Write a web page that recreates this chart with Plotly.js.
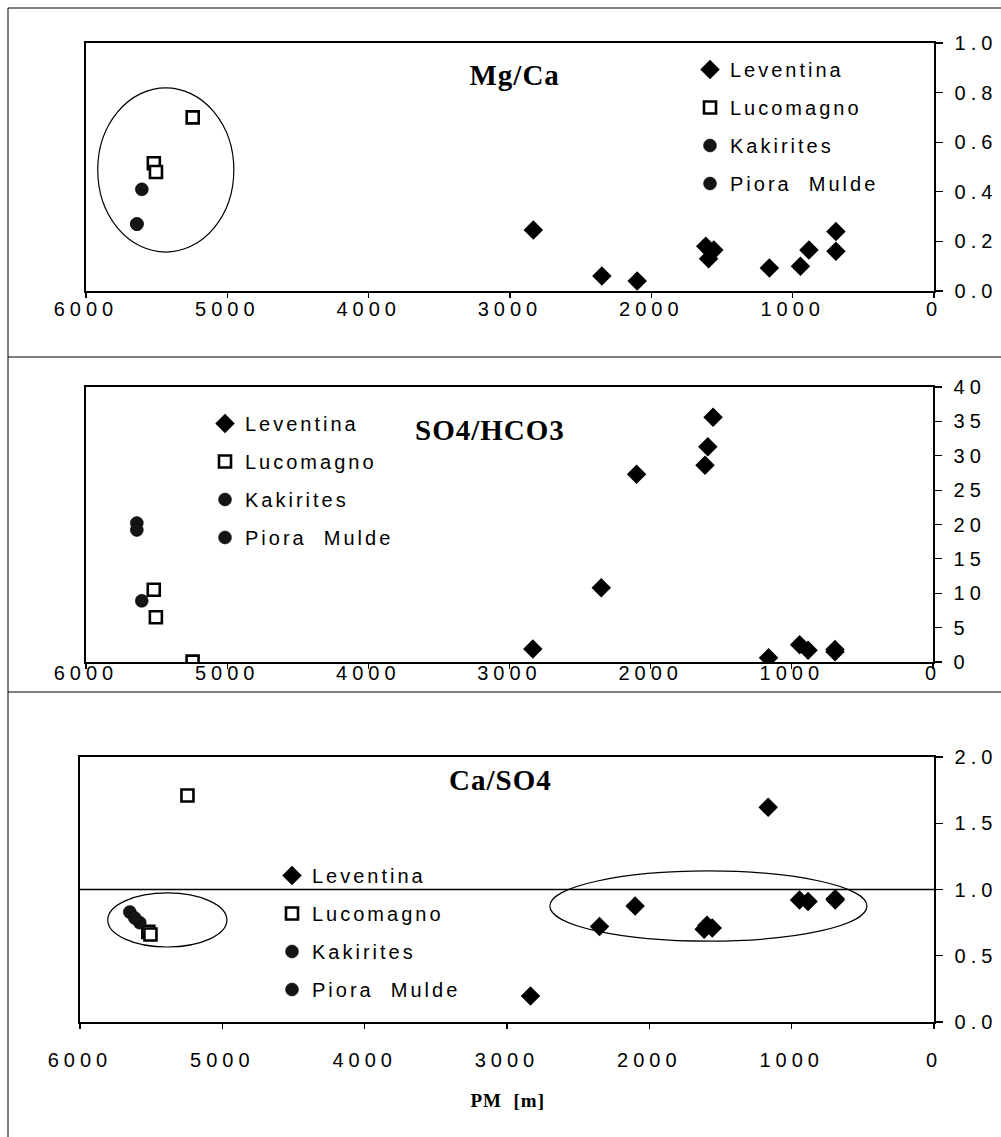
<!DOCTYPE html>
<html><head><meta charset="utf-8">
<script src="https://cdn.plot.ly/plotly-3.0.1.min.js"></script>
<style>
html,body{margin:0;padding:0;background:#fff;}
#chart{width:1001px;height:1137px;}
g[class$="tick"] text{letter-spacing:5px;}
.infolayer text{letter-spacing:3px;}
.infolayer .annotation text{letter-spacing:1px;}
</style></head><body><div id="chart"></div>
<script>
// ---------- data ----------
const seriesNames = ['Leventina', 'Lucomagno', 'Kakirites', 'Piora  Mulde'];
const xTickValues = [6000, 5000, 4000, 3000, 2000, 1000, 0];

const pmLeventina = [2835, 2350, 2100, 1615, 1595, 1558, 1165, 945, 885, 694, 694];
const mgcaLeventina = [0.246, 0.06, 0.04, 0.18, 0.13, 0.165, 0.093, 0.10, 0.165, 0.24, 0.16];
const so4hco3Leventina = [1.9, 10.8, 27.3, 28.6, 31.3, 35.6, 0.6, 2.5, 1.7, 1.8, 1.5];
const caso4Leventina = [0.196, 0.72, 0.875, 0.70, 0.73, 0.71, 1.62, 0.92, 0.91, 0.92, 0.93];

const pmLucomagno = [5245, 5520, 5505];
const mgcaLucomagno = [0.70, 0.515, 0.48];
const so4hco3Lucomagno = [0.05, 10.5, 6.5];
const caso4Lucomagno = [1.71, 0.68, 0.66];

const pmKakirites = [5605];
const mgcaKakirites = [0.41];
const so4hco3Kakirites = [8.9];
const pmKakiritesCaSO4 = [5580];
const caso4Kakirites = [0.75];

const pmPiora = [5640, 5640];
const mgcaPiora = [0.27, 0.27];
const so4hco3Piora = [20.2, 19.2];
const pmPioraCaSO4 = [5650, 5615];
const caso4Piora = [0.83, 0.785];

// ---------- styling ----------
const sans = 'Liberation Sans, Arial, Helvetica, sans-serif';
const serif = 'Liberation Serif, Times New Roman, serif';
const markerStyles = [
  {symbol: 'diamond', size: 15, color: '#000', line: {width: 0}},
  {symbol: 'square', size: 12, color: '#fff', line: {width: 2.6, color: '#000'}},
  {symbol: 'circle', size: 13, color: '#151515', line: {width: 0.5, color: '#000'}},
  {symbol: 'circle', size: 13, color: '#151515', line: {width: 0.5, color: '#000'}}
];

const panels = [
  {xa: 'x', ya: 'y', legend: 'legend', sets: [[pmLeventina, mgcaLeventina], [pmLucomagno, mgcaLucomagno], [pmKakirites, mgcaKakirites], [pmPiora, mgcaPiora]]},
  {xa: 'x2', ya: 'y2', legend: 'legend2', sets: [[pmLeventina, so4hco3Leventina], [pmLucomagno, so4hco3Lucomagno], [pmKakirites, so4hco3Kakirites], [pmPiora, so4hco3Piora]]},
  {xa: 'x3', ya: 'y3', legend: 'legend3', sets: [[pmLeventina, caso4Leventina], [pmLucomagno, caso4Lucomagno], [pmKakiritesCaSO4, caso4Kakirites], [pmPioraCaSO4, caso4Piora]]}
];

const traces = [];
panels.forEach((p, pi) => {
  p.sets.forEach((s, si) => {
    traces.push({
      type: 'scatter', mode: 'markers', x: s[0], y: s[1],
      xaxis: p.xa, yaxis: p.ya, name: seriesNames[si],
      legend: p.legend, legendgroup: 'g' + pi + '_' + si, showlegend: true,
      marker: markerStyles[si], hoverinfo: 'x+y'
    });
  });
});

const W = 1001, H = 1137;
const px = v => v / W;
const py = v => 1 - v / H;

function xax(domain, anchor, standoff) {
  return {
    domain: domain, anchor: anchor, range: [6000, 0], autorange: false,
    tickmode: 'array', tickvals: xTickValues,
    ticks: 'outside', ticklen: 5, tickwidth: 1.2, tickcolor: '#000',
    showline: true, linecolor: '#000', linewidth: 1.6, mirror: true,
    showgrid: false, zeroline: false,
    tickfont: {family: sans, size: 20, color: '#000'},
    ticklabelstandoff: standoff, fixedrange: true
  };
}
function yax(domain, anchor, range, dtick, fmt) {
  return {
    domain: domain, anchor: anchor, range: range, autorange: false, side: 'right',
    tick0: 0, dtick: dtick, tickformat: fmt,
    ticks: 'outside', ticklen: 7, tickwidth: 1.2, tickcolor: '#000',
    showline: true, linecolor: '#000', linewidth: 1.6, mirror: true,
    showgrid: false, zeroline: false,
    tickfont: {family: sans, size: 20, color: '#000'},
    ticklabelstandoff: 8, fixedrange: true
  };
}
function leg(x, y) {
  return {x: x, y: y, xanchor: 'left', yanchor: 'top', bgcolor: 'rgba(0,0,0,0)',
    font: {family: sans, size: 20, color: '#000'}, tracegroupgap: 9, itemwidth: 30,
    traceorder: 'grouped'};
}
function title(text, x, y, size) {
  return {text: '<b>' + text + '</b>', xref: 'paper', yref: 'paper', x: px(x), y: py(y),
    xanchor: 'center', yanchor: 'middle', showarrow: false,
    font: {family: serif, size: size, color: '#000'}};
}

const layout = {
  width: W, height: H, margin: {l: 0, r: 0, t: 0, b: 0},
  paper_bgcolor: '#fff', plot_bgcolor: '#fff', showlegend: true,
  xaxis: xax([px(86), px(934)], 'y', -6),
  yaxis: yax([py(291), py(43)], 'x', [0, 1], 0.2, '.1f'),
  xaxis2: xax([px(86), px(933)], 'y2', -13),
  yaxis2: yax([py(662), py(387)], 'x2', [0, 40], 5, 'd'),
  xaxis3: xax([px(80), px(934)], 'y3', 14),
  yaxis3: yax([py(1022), py(757)], 'x3', [0, 2], 0.5, '.1f'),
  legend: leg(px(690), py(50)),
  legend2: leg(px(205), py(404)),
  legend3: leg(px(272), py(856)),
  annotations: [
    title('Mg/Ca', 515, 75, 29),
    title('SO4/HCO3', 490, 430, 29),
    title('Ca/SO4', 500, 780, 29),
    title('PM  [m]', 508, 1100, 19)
  ],
  shapes: [
    // ellipses drawn around groups
    {type: 'circle', xref: 'x', yref: 'y', x0: 5917, x1: 4954, y0: 0.157, y1: 0.819, line: {color: '#000', width: 1.2}},
    {type: 'circle', xref: 'x3', yref: 'y3', x0: 5805, x1: 4968, y0: 0.566, y1: 0.974, line: {color: '#000', width: 1.2}},
    {type: 'circle', xref: 'x3', yref: 'y3', x0: 2699, x1: 471, y0: 0.61, y1: 1.14, line: {color: '#000', width: 1.2}},
    // reference line at 1.0
    {type: 'line', xref: 'x3 domain', yref: 'y3', x0: 0, x1: 1, y0: 1, y1: 1, line: {color: '#000', width: 1.5}},
    // outer frame lines
    {type: 'line', xref: 'paper', yref: 'paper', x0: px(8), x1: px(8), y0: py(8), y1: py(1137), line: {color: '#000', width: 1}},
    {type: 'line', xref: 'paper', yref: 'paper', x0: px(8), x1: 1, y0: py(8), y1: py(8), line: {color: '#000', width: 1}},
    {type: 'line', xref: 'paper', yref: 'paper', x0: px(8), x1: 1, y0: py(357), y1: py(357), line: {color: '#000', width: 1}},
    {type: 'line', xref: 'paper', yref: 'paper', x0: px(8), x1: 1, y0: py(692), y1: py(692), line: {color: '#000', width: 1}}
  ]
};

Plotly.newPlot('chart', traces, layout, {displayModeBar: false, staticPlot: true}).then(gd => {
  // letter-spaced legend text is wider than Plotly measured; do not clip it
  gd.querySelectorAll('.infolayer g[clip-path]').forEach(el => el.removeAttribute('clip-path'));
});
</script></body></html>
